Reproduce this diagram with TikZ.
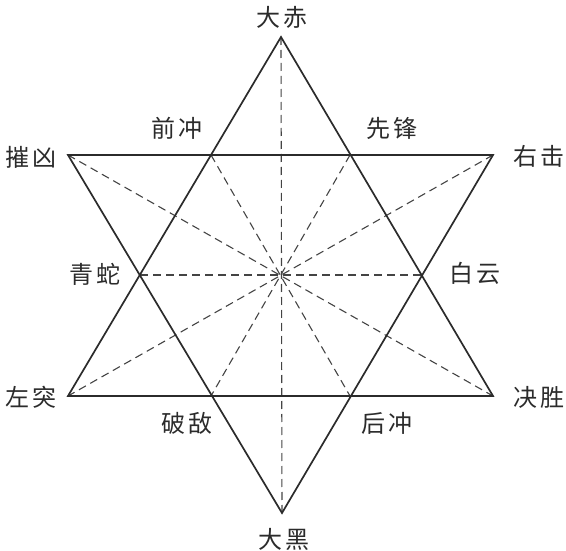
\documentclass[tikz,border=0pt]{standalone}
\usepackage{fontspec}
\usepackage{tikz}
\newfontfamily\cjk[LetterSpace=12]{Noto Sans CJK SC}
\definecolor{inkgray}{HTML}{2B2B2B}
\definecolor{dashgray}{HTML}{444444}

\begin{document}
\begin{tikzpicture}[x=1pt, y=-1pt,
    edge/.style={line width=1.7pt, inkgray, line join=miter},
    ray/.style={line width=1.1pt, dashgray, dash pattern=on 8pt off 5pt},
    lbl/.style={text=inkgray, font=\cjk\fontsize{24}{24}\selectfont, inner sep=0pt}]
    \useasboundingbox (0,0) rectangle (566,551);
    % Outer points
    \coordinate (dachi) at (281,37);
    \coordinate (dahei) at (282,513);
    \coordinate (cuixiong) at (68,155);
    \coordinate (youji) at (493,155);
    \coordinate (zuotu) at (68,396);
    \coordinate (juesheng) at (493,396);
    % Inner points
    \coordinate (qianchong) at (211,155);
    \coordinate (xianfeng) at (350,155);
    \coordinate (qingshe) at (140,275);
    \coordinate (baiyun) at (422,275);
    \coordinate (podi) at (211,396);
    \coordinate (houchong) at (350,396);
    % Dashed lines through the centre
    \draw[ray] (dachi) -- (dahei);
    \draw[ray] (cuixiong) -- (juesheng);
    \draw[ray] (youji) -- (zuotu);
    \draw[ray] (qingshe) -- (baiyun);
    \draw[ray] (qianchong) -- (houchong);
    \draw[ray] (xianfeng) -- (podi);
    % Two triangles
    \draw[edge] (dachi) -- (juesheng) -- (zuotu) -- cycle;
    \draw[edge] (cuixiong) -- (youji) -- (dahei) -- cycle;
    % Labels
    \node[lbl] (t-dachi) at (282,17) {大赤};
    \node[lbl] (t-dahei) at (284,539) {大黑};
    \node[lbl] (t-cuixiong) at (31,157) {摧凶};
    \node[lbl] (t-youji) at (539,156) {右击};
    \node[lbl] (t-zuotu) at (31,397) {左突};
    \node[lbl] (t-juesheng) at (539,397) {决胜};
    \node[lbl] (t-qianchong) at (177,128) {前冲};
    \node[lbl] (t-xianfeng) at (392,128) {先锋};
    \node[lbl] (t-qingshe) at (95,274) {青蛇};
    \node[lbl] (t-baiyun) at (475,273) {白云};
    \node[lbl] (t-podi) at (187,423) {破敌};
    \node[lbl] (t-houchong) at (387,423) {后冲};
\end{tikzpicture}
\end{document}
